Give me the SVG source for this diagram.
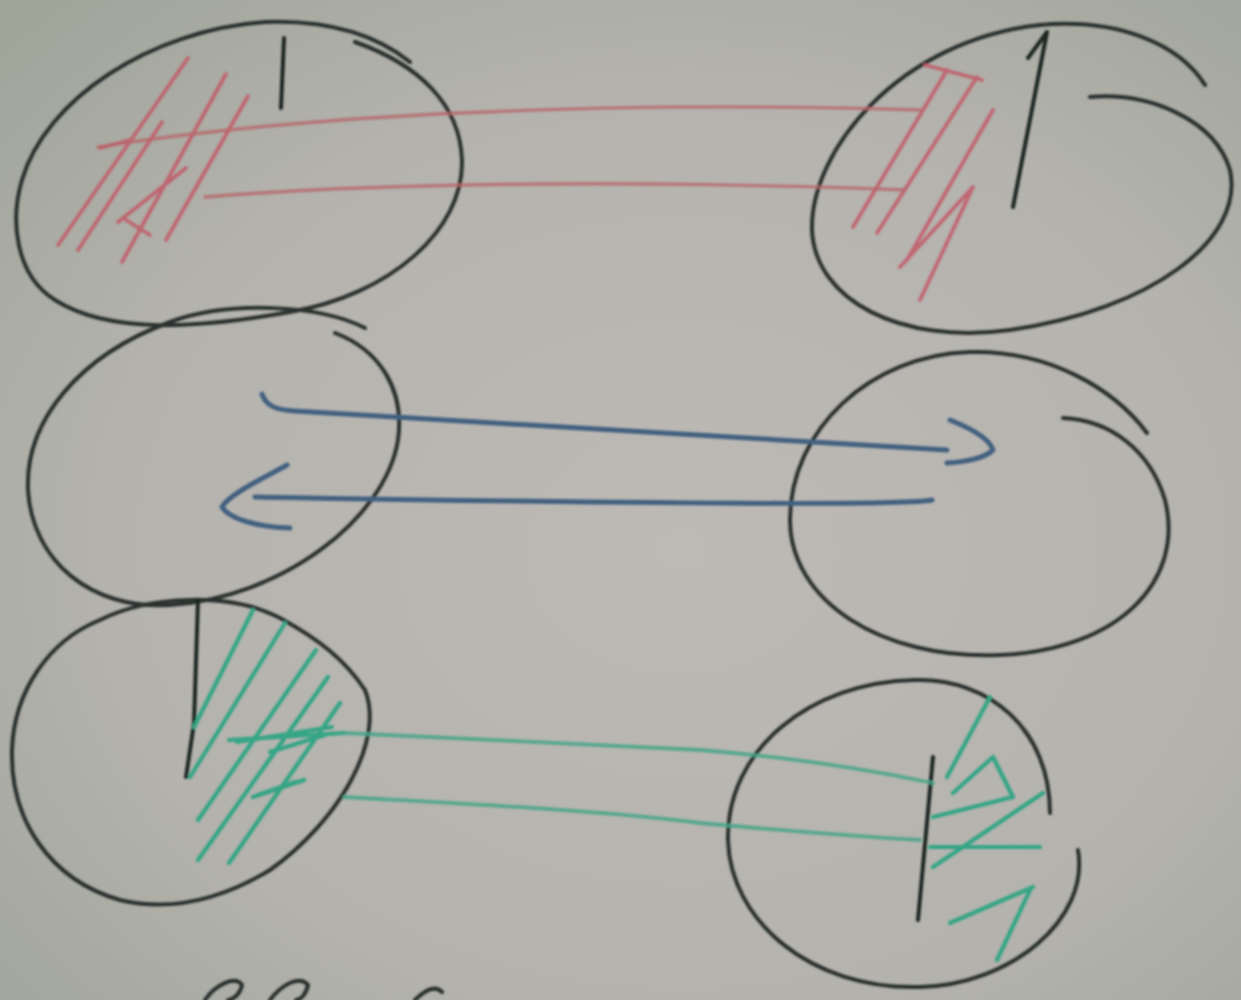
<svg xmlns="http://www.w3.org/2000/svg" width="1241" height="1000" viewBox="0 0 1241 1000">
<defs>
<radialGradient id="paper" cx="55%" cy="55%" r="75%">
<stop offset="0" stop-color="#bdbab6"/>
<stop offset="0.6" stop-color="#b5b3ae"/>
<stop offset="1" stop-color="#a0a59a"/>
</radialGradient>
<filter id="soft" x="-5%" y="-5%" width="110%" height="110%"><feGaussianBlur stdDeviation="1"/></filter>
</defs>
<style>
.ink{fill:none;stroke:#2c302f;stroke-width:4;stroke-linecap:round;stroke-linejoin:round}
.tick{fill:none;stroke:#1f2524;stroke-width:4;stroke-linecap:round}
.red{fill:none;stroke:#c25a68;stroke-width:3.8;stroke-linecap:round;stroke-linejoin:round;opacity:0.85}
.redl{fill:none;stroke:#b8666a;stroke-width:3.4;stroke-linecap:round;opacity:0.8}
.blue{fill:none;stroke:#42607f;stroke-width:5;stroke-linecap:round;stroke-linejoin:round}
.green{fill:none;stroke:#35a585;stroke-width:4.2;stroke-linecap:round;stroke-linejoin:round}
.greenl{fill:none;stroke:#45a487;stroke-width:3.8;stroke-linecap:round;opacity:0.85}
</style>
<rect width="1241" height="1000" fill="url(#paper)"/>
<g filter="url(#soft)">
<g id="node-top-left">
<path class="ink" d="M355,42 C420,65 460,105 462,160 C464,230 390,295 290,312 C200,328 110,335 55,300 C15,275 10,220 22,180 C45,100 150,30 265,22 C320,20 370,30 410,62"/>
<path class="tick" d="M284,38 L281,108"/>
<path class="red" d="M58,245 L188,58 M78,250 L162,122 M122,262 L226,74 M166,240 L248,96 M118,222 L186,168 M100,148 L130,140 M126,220 L150,235"/>
</g>
<g id="node-top-right">
<path class="ink" d="M1090,97 C1150,92 1215,120 1230,170 C1245,240 1150,310 1010,330 C900,345 815,300 812,230 C810,150 900,40 1040,25 C1120,18 1180,45 1205,85"/>
<path class="tick" d="M1047,32 L1013,207 M1047,32 L1028,58"/>
<path class="red" d="M853,227 L947,70 M877,233 L977,77 M907,260 L993,110 M900,267 L973,187 L920,300 M925,65 L982,80"/>
</g>
<g id="node-mid-left">
<path class="ink" d="M365,328 C320,305 230,300 170,322 C80,355 25,420 28,490 C32,560 90,610 170,605 C280,598 385,520 398,440 C405,390 380,350 335,333"/>
</g>
<g id="node-mid-right">
<path class="ink" d="M1063,418 C1110,420 1150,450 1165,500 C1185,580 1120,650 1000,655 C880,660 790,600 790,520 C790,430 870,355 970,352 C1050,350 1115,390 1147,433"/>
</g>
<g id="node-bottom-left">
<path class="ink" d="M100,620 C150,595 230,592 280,618 C320,640 345,660 365,690 C385,740 340,820 270,870 C220,900 170,912 120,900 C50,880 10,820 12,750 C14,690 50,640 100,620"/>
<path class="tick" d="M198,600 L194,723 L186,777"/>
<path class="green" d="M194,727 L253,610 M190,777 L285,623 M198,820 L316,650 M198,860 L328,677 M229,863 L340,703 M237,742 L332,727 M253,797 L304,780 M229,740 L344,733"/>
<path class="green" stroke-width="9" d="M270,752 L325,735 M258,795 L295,782"/>
</g>
<g id="node-bottom-right">
<path class="ink" d="M1078,850 C1090,920 1010,985 920,987 C810,990 730,920 728,840 C726,750 810,682 915,680 C990,678 1050,730 1050,813"/>
<path class="green" d="M990,697 L947,777 M953,793 L993,757 L1013,797 L933,817 M1043,793 L933,867 M1040,847 L930,847 M1033,887 L950,923 M1030,890 L997,960"/>
<path class="tick" stroke-width="5" d="M933,757 L918,920"/>
</g>
<g id="connectors">
<path class="redl" d="M98,147 C300,115 600,100 920,110"/>
<path class="redl" d="M205,197 C350,185 600,178 905,190"/>
<path class="blue" d="M262,394 C266,406 276,410 295,411 L947,450"/>
<path class="blue" d="M950,420 C975,430 990,440 993,450 C985,458 965,462 947,463"/>
<path class="blue" d="M932,500 C900,506 600,503 255,497"/>
<path class="blue" d="M287,465 C260,480 228,495 222,507 C230,520 260,527 290,528"/>
<path class="greenl" d="M344,733 C450,738 600,745 700,750 C800,758 880,772 933,783"/>
<path class="greenl" d="M344,797 C450,803 600,810 700,823 C800,832 880,838 920,840"/>
</g>
<g id="bottom-marks">
<path class="ink" d="M205,1000 C215,985 235,975 242,985 C240,995 232,1000 228,1000 M270,1000 C282,984 300,975 308,985 C306,995 300,1000 296,1000 M415,1000 C425,990 435,985 442,992"/>
</g>
</g>
</svg>
